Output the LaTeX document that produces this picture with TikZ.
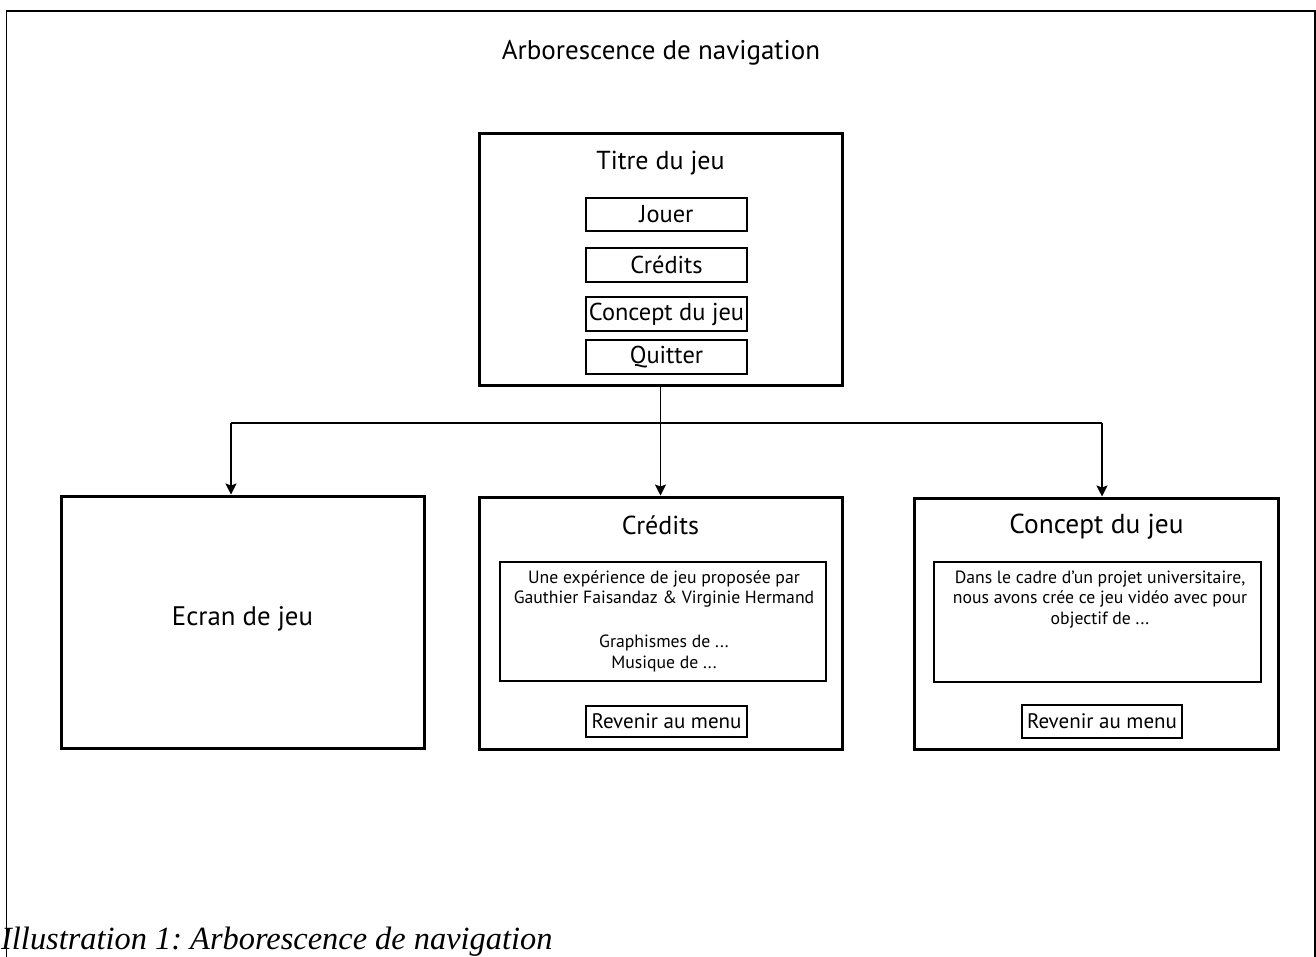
\documentclass[tikz,border=0pt]{standalone}
\usepackage{fontspec}
\setmainfont{PT Sans}
\newfontfamily\capfont{Liberation Serif}
\usetikzlibrary{arrows.meta}
\frenchspacing
\tikzset{
  bigbox/.style={draw, line width=3pt, minimum width=#1, inner sep=0pt},
  smallbox/.style={draw, line width=1.2pt, inner sep=0pt},
  conn/.style={line width=1.3pt},
  arr/.style={conn, -{Stealth[length=11pt,width=11pt,inset=2pt]}},
  titletext/.style={font=\fontsize{26}{30}\selectfont, inner sep=0pt},
  menutext/.style={font=\fontsize{24.4}{28}\selectfont},
  btntext/.style={font=\fontsize{21}{25}\selectfont},
  bodytext/.style={font=\fontsize{17.7}{20.5}\selectfont, align=center, inner sep=0pt},
}
\begin{document}
\begin{tikzpicture}[x=1pt,y=-1pt]
\useasboundingbox (0,0) rectangle (1316,956);
% outer frame
\draw[line width=1.5pt] (6.5,960) -- (6.5,11) -- (1315,11) -- (1315,960);
\node[font=\fontsize{27}{31}\selectfont, inner sep=0pt] (head) at (661,53) {Arborescence de navigation};
% main menu
\node[bigbox=363pt, minimum height=252pt] (titre) at (660.5,259) {};
\node[titletext] (titretxt) at (660.5,163) {Titre du jeu};
\node[smallbox, minimum width=161pt, minimum height=33pt, menutext] (jouer) at (666.5,214.5) {Jouer};
\node[smallbox, minimum width=161pt, minimum height=34pt, menutext] (credb) at (666.5,265) {Crédits};
\node[smallbox, minimum width=161pt, minimum height=34pt, menutext] (concb) at (666.5,314) {Concept du jeu};
\node[smallbox, minimum width=161pt, minimum height=34pt, menutext] (quit) at (666.5,357) {Quitter};
% screens
\node[bigbox=363pt, minimum height=252pt] (ecran) at (242.5,622) {};
\node[font=\fontsize{26.8}{30}\selectfont, inner sep=0pt] (ecrantxt) at (242.5,619) {Ecran de jeu};
\node[bigbox=363pt, minimum height=252pt] (cred) at (660.5,623) {};
\node[bigbox=364pt, minimum height=251pt] (conc) at (1096,623.5) {};
\node[titletext] (credtxt) at (660.5,525) {Crédits};
\node[font=\fontsize{27.4}{31}\selectfont, inner sep=0pt] (conctxt) at (1096.5,526.5) {Concept du jeu};
% credits content
\node[smallbox, minimum width=326pt, minimum height=119pt] (credin) at (663,621.5) {};
\node[bodytext, anchor=north] (credbody) at (664,570.5) {Une expérience de jeu proposée par\\Gauthier Faisandaz \& Virginie Hermand\\[23.5pt]Graphismes de ...\\Musique de ...};
\node[smallbox, minimum width=161pt, minimum height=31pt, btntext] (credret) at (666.5,721.5) {Revenir au menu};
% concept content
\node[smallbox, minimum width=327pt, minimum height=120pt] (concin) at (1097.5,622) {};
\node[bodytext, anchor=north] (concbody) at (1100,570.5) {Dans le cadre d’un projet universitaire,\\nous avons crée ce jeu vidéo avec pour\\objectif de ...};
\node[smallbox, minimum width=160pt, minimum height=33pt, btntext] (concret) at (1102,721.5) {Revenir au menu};
% connectors
\coordinate (jl) at (231,423);
\coordinate (jr) at (1102,423);
\draw[conn] (titre.south) -- (titre.south |- jl);
\draw[conn] (jl) -- (jr);
\draw[arr] (jl) -- (jl |- ecran.north);
\draw[arr] (titre.south |- jl) -- (cred.north);
\draw[arr] (jr) -- (jr |- conc.north);
% caption
\node[font=\capfont\itshape\fontsize{32.4}{37}\selectfont, anchor=base west, inner sep=0pt] (caption) at (1,949) {Illustration 1: Arborescence de navigation};
\end{tikzpicture}
\end{document}
